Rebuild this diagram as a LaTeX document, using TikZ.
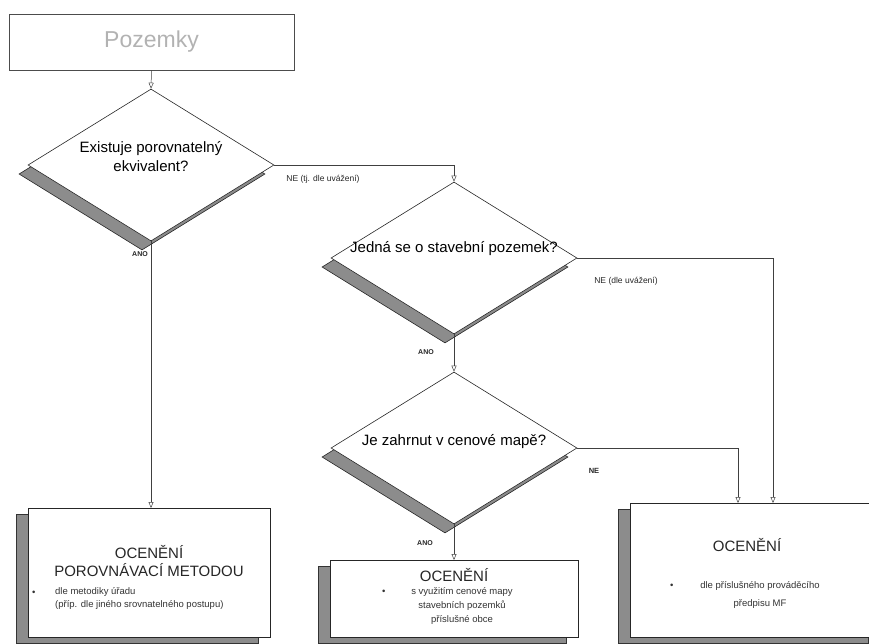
\documentclass[tikz,border=0pt]{standalone}
\usepackage{fontspec}
\setmainfont{Liberation Sans}
\usetikzlibrary{arrows.meta,shadows,shapes.geometric,calc}
\begin{document}
\begin{tikzpicture}[x=1pt,y=-1pt,
  dia/.style={shape=diamond, draw=black!85, line width=0.6pt, fill=white,
    minimum width=246pt, minimum height=152pt, inner sep=0pt,
    general shadow={shadow xshift=-9pt, shadow yshift=-9pt, fill=black!45, draw=black!85, line width=0.6pt}},
  box/.style={draw=black!85, line width=0.6pt, fill=white, anchor=north west, inner sep=0pt,
    general shadow={shadow xshift=-12pt, shadow yshift=-6pt, fill=black!45, draw=black!80, line width=0.5pt}},
  qtext/.style={align=center, font=\fontsize{15}{19}\selectfont, inner sep=0pt},
  big/.style={align=center, font=\fontsize{15}{18}\selectfont, inner sep=0pt, text=black!85},
  small/.style={align=left, font=\fontsize{9.5}{13}\selectfont, inner sep=0pt, text=black!80},
  lbl/.style={font=\fontsize{8.5}{10}\selectfont, inner sep=0pt, text=black!85},
  yes/.style={font=\bfseries\fontsize{7}{9}\selectfont, inner sep=0pt, text=black!85},
  conn/.style={draw=black!75, line width=0.5pt},
  arr/.style={conn, -{Triangle[open, length=6pt, width=5pt]}}
]
\useasboundingbox (0,0) rectangle (869,643);
\clip (0,0) rectangle (869,643);

% start box
\node[draw=black!70, line width=0.6pt, minimum width=285pt, minimum height=56pt, inner sep=0pt,
      font=\fontsize{23}{26}\selectfont, text=gray!60] (top) at (151.5,42) {Pozemky};

% decisions
\node[dia] (d1) at (151,165) {};
\node[qtext] (d1t) at (151,157) {Existuje porovnatelný\\ekvivalent?};
\node[dia] (d2) at (454,258) {};
\node[qtext] (d2t) at (454,249) {Jedná se o stavební pozemek?};
\node[dia] (d3) at (454,448) {};
\node[qtext] (d3t) at (454,442) {Je zahrnut v cenové mapě?};

% result boxes
\node[box, minimum width=242pt, minimum height=129pt] (b1) at (28,508) {};
\node[big] (b1t) at (149,561) {OCENĚNÍ\\POROVNÁVACÍ METODOU};
\node[small, anchor=west] (b1bul) at (32,593) {•};
\node[small, anchor=north west] (b1s) at (55,587) {dle metodiky úřadu\\(příp. dle jiného srovnatelného postupu)};

\node[box, minimum width=248pt, minimum height=77pt] (b2) at (330,560) {};
\node[big] (b2t) at (454,575) {OCENĚNÍ};
\node[small, anchor=west] (b2bul) at (382,592) {•};
\node[small, align=center, font=\fontsize{9.5}{14}\selectfont] (b2s) at (462,606) {s využitím cenové mapy\\stavebních pozemků\\příslušné obce};

\node[box, minimum width=250pt, minimum height=134pt] (b3) at (630,503) {};
\node[big] (b3t) at (747,545) {OCENĚNÍ};
\node[small, anchor=west] (b3bul) at (670,586) {•};
\node[small, align=center, font=\fontsize{9.5}{18}\selectfont] (b3s) at (760,595) {dle příslušného prováděcího\\předpisu MF};

\coordinate (in3a) at ([xshift=108pt]b3.north west);
\coordinate (in3b) at ([xshift=143pt]b3.north west);

% connectors
\draw[arr] (top.south) -- (d1.north);
\draw[arr] (d1.east) -| (d2.north);
\draw[arr] (d1.south) -- (d1.south |- b1.north);
\draw[arr] (d2.east) -| (in3b);
\draw[arr] (d2.south) -- (d3.north);
\draw[arr] (d3.east) -| (in3a);
\draw[arr] (d3.south) -- (d3.south |- b2.north);

% labels
\node[lbl] (l1) at (323,179) {NE (tj. dle uvážení)};
\node[lbl] (l2) at (626,281) {NE (dle uvážení)};
\node[yes, font=\bfseries\fontsize{7.5}{9}\selectfont] (l3) at (594,471) {NE};
\node[yes] (a1) at (140,254) {ANO};
\node[yes] (a2) at (426,352) {ANO};
\node[yes] (a3) at (425,543) {ANO};
\end{tikzpicture}
\end{document}
